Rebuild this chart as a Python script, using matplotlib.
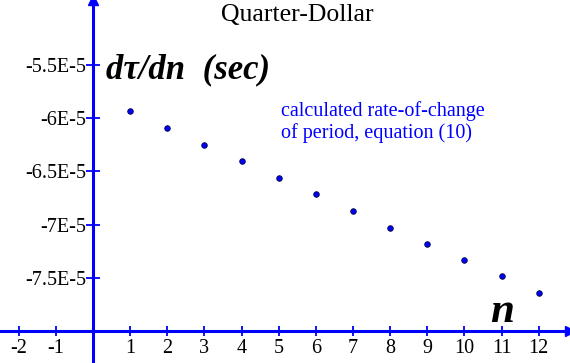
import matplotlib
matplotlib.use("Agg")
import matplotlib.pyplot as plt
import numpy as np

plt.rcParams['font.family'] = ['Liberation Serif', 'DejaVu Serif']

# data (values in units of 1E-5 sec)
n_vals = [1, 2, 3, 4, 5, 6, 7, 8, 9, 10, 11, 12]
rate_vals = [-5.932, -6.095, -6.249, -6.405, -6.562, -6.715,
             -6.872, -7.029, -7.185, -7.336, -7.486, -7.646]
x_ticks = [-2, -1, 1, 2, 3, 4, 5, 6, 7, 8, 9, 10, 11, 12]
y_ticks = [-5.5, -6.0, -6.5, -7.0, -7.5]
y_tick_labels = ["-5.5E-5", "-6E-5", "-6.5E-5", "-7E-5", "-7.5E-5"]

BLUE = "#0000ff"

fig = plt.figure(figsize=(5.70, 3.63), dpi=100)
ax = fig.add_axes([0, 0, 1, 1])
ax.set_xlim(-2.503, 12.84)
ax.set_ylim(-8.301, -4.889)

for s in ["top", "right"]:
    ax.spines[s].set_visible(False)
ax.spines["left"].set_position(("data", 0))
ax.spines["bottom"].set_position(("data", -8.0))
for s in ["left", "bottom"]:
    ax.spines[s].set_color(BLUE)
    ax.spines[s].set_linewidth(2.2)

ax.set_xticks(x_ticks)
ax.set_xticklabels([str(v) for v in x_ticks])
ax.set_yticks(y_ticks)
ax.set_yticklabels(y_tick_labels)
ax.tick_params(axis="x", direction="inout", length=7, width=1.3,
               color=BLUE, labelsize=14.5, pad=2.5)
ax.tick_params(axis="y", direction="inout", length=10, width=1.3,
               color=BLUE, labelsize=14.5, pad=0)

# axis arrows
ax.plot(1, -8.0, ">", color=BLUE, markersize=7, clip_on=False,
        transform=ax.get_yaxis_transform())
ax.plot(0, 1, "^", color=BLUE, markersize=7, clip_on=False,
        transform=ax.get_xaxis_transform())

ax.plot(n_vals, rate_vals, "o", color=BLUE, markeredgecolor="#000040",
        markeredgewidth=0.6, markersize=4, clip_on=False)

ax.text(0.521, 0.958, "Quarter-Dollar", transform=ax.transAxes,
        ha="center", va="center", fontsize=18.5)
ax.text(106 / 570, 1 - 78 / 363, "dτ/dn  (sec)", transform=ax.transAxes,
        ha="left", va="baseline", fontsize=25, fontweight="bold",
        style="italic")
ax.text(490 / 570, 1 - 322 / 363, "n", transform=ax.transAxes,
        ha="left", va="baseline", fontsize=31, fontweight="bold",
        style="italic")
ax.text(281 / 570, 1 - 138 / 363,
        "calculated rate-of-change\nof period, equation (10)",
        transform=ax.transAxes, ha="left", va="baseline", fontsize=14.5,
        color=BLUE, linespacing=1.15)

fig.savefig("out.png", dpi=100)
